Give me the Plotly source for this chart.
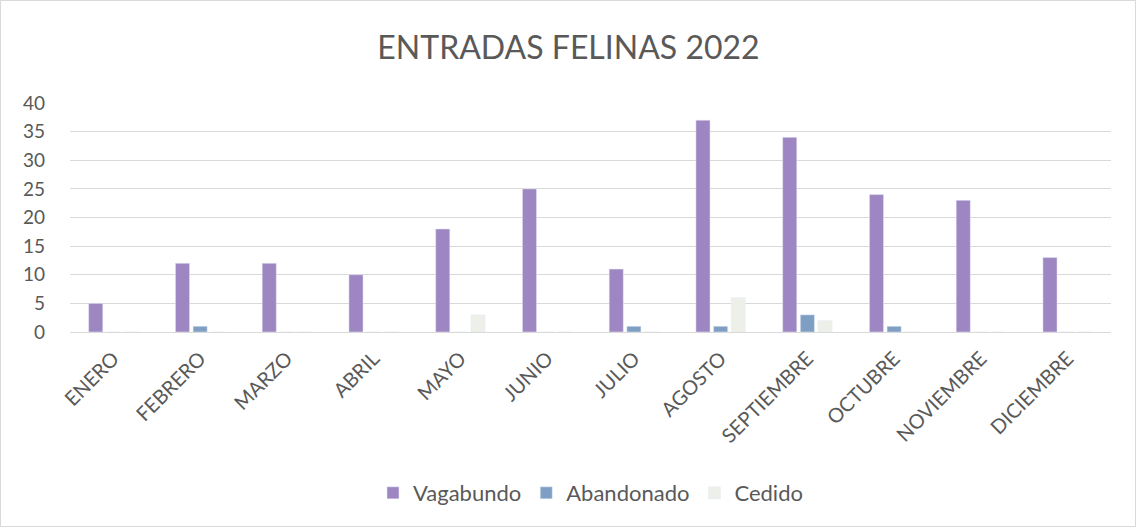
import plotly.graph_objects as go

meses = ["ENERO", "FEBRERO", "MARZO", "ABRIL", "MAYO", "JUNIO", "JULIO",
         "AGOSTO", "SEPTIEMBRE", "OCTUBRE", "NOVIEMBRE", "DICIEMBRE"]
vagabundo = [5, 12, 12, 10, 18, 25, 11, 37, 34, 24, 23, 13]
abandonado = [0, 1, 0, 0, 0, 0, 1, 1, 3, 1, 0, 0]
cedido = [0, 0, 0, 0, 3, 0, 0, 6, 2, 0, 0, 0]
y_ticks = [0, 5, 10, 15, 20, 25, 30, 35, 40]

W, H = 1137, 528
L, R, T, B = 70, 26, 103, 196
pw, ph = W - L - R, H - T - B
y_bottom = T + ph  # pixel y of paper y=0


def py(pix):
    return (y_bottom - pix) / ph


def px(pix):
    return (pix - L) / pw


fig = go.Figure()
fig.add_bar(x=meses, y=vagabundo, name="Vagabundo", marker_color="#9E86C2")
fig.add_bar(x=meses, y=abandonado, name="Abandonado", marker_color="#7F9EC3")
fig.add_bar(x=meses, y=cedido, name="Cedido", marker_color="#EDEFE9")

fnt = "Lato, Open Sans, sans-serif"
fig.update_layout(
    width=W, height=H,
    margin=dict(l=L, r=R, t=T, b=B, autoexpand=False),
    paper_bgcolor="white", plot_bgcolor="white",
    barmode="group", bargap=0.39, bargroupgap=0.2,
    title=dict(text="ENTRADAS FELINAS 2022", x=0.5, xanchor="center",
               y=1 - 48 / H, yanchor="middle",
               font=dict(family=fnt, size=32, color="#595959")),
    font=dict(family=fnt, color="#595959", size=19),
    legend=dict(orientation="h", x=0.5, xanchor="center",
                y=py(493), yanchor="middle",
                font=dict(size=22, color="#595959"),
                traceorder="normal"),
    showlegend=True,
)
fig.update_yaxes(range=[0, 40], tickvals=y_ticks, showgrid=True,
                 gridcolor="#D9D9D9", gridwidth=1, zeroline=False,
                 showline=False, ticks="", tickfont=dict(size=19),
                 ticklabelstandoff=24)
fig.update_xaxes(tickangle=-45, showline=True, linecolor="#D9D9D9",
                 linewidth=1, ticks="", tickfont=dict(size=20),
                 ticklabelstandoff=6)

fig.add_shape(type="rect", xref="paper", yref="paper",
              x0=px(0.5), x1=px(W - 1.5),
              y0=py(H - 1.5), y1=py(0.5),
              line=dict(color="#D9D9D9", width=1), fillcolor="rgba(0,0,0,0)",
              layer="below")

fig.write_html("out.html", config={"displayModeBar": False},
               post_script="document.body.style.margin='0';document.body.style.overflow='hidden';")
